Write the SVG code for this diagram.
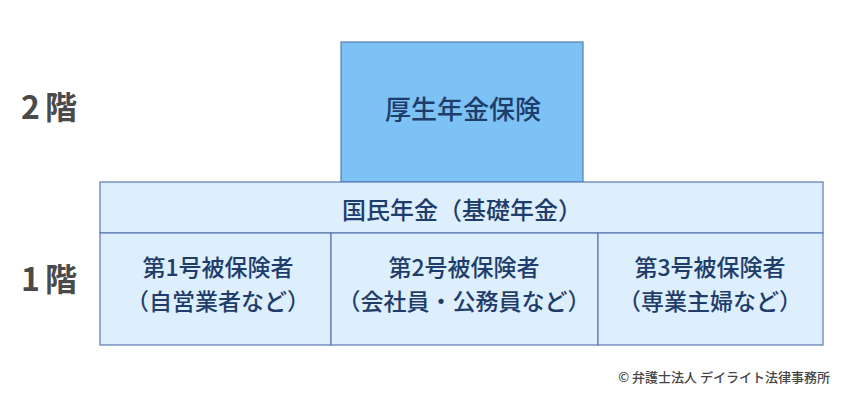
<svg xmlns="http://www.w3.org/2000/svg" width="850" height="400" viewBox="0 0 850 400">
<style>
.box{stroke:#5a7bb0;stroke-width:1.2}
.t{font-family:"Noto Sans CJK JP","Noto Sans",sans-serif;font-size:23px;font-weight:500;fill:#1f3d6b;text-anchor:middle}
.lv{font-family:"Noto Sans CJK JP","Noto Sans",sans-serif;font-size:32px;font-weight:bold;fill:#4a4a4a;letter-spacing:5px}
.cp{font-family:"Noto Sans CJK JP","Noto Sans",sans-serif;font-size:13px;font-weight:500;fill:#444;text-anchor:end}
</style>
<rect width="850" height="400" fill="#fff"/>
<g id="level2"><text class="lv" x="21" y="119">2階</text></g>
<g id="level1"><text class="lv" x="21" y="291">1階</text></g>
<g id="kosei">
<rect class="box" x="341" y="42" width="242" height="140" fill="#7dc2f5"/>
<text class="t" x="463" y="119" style="font-size:26px">厚生年金保険</text>
</g>
<g id="kokumin">
<rect class="box" x="100" y="182" width="723" height="51" fill="#ddeefc"/>
<text class="t" x="462" y="219" style="font-size:24px">国民年金（基礎年金）</text>
</g>
<g id="dai1">
<rect class="box" x="100" y="233" width="231" height="112" fill="#ddeefc"/>
<text class="t" x="218" y="276">第1号被保険者</text>
<text class="t" x="218" y="310">（自営業者など）</text>
</g>
<g id="dai2">
<rect class="box" x="331" y="233" width="267" height="112" fill="#ddeefc"/>
<text class="t" x="464" y="276">第2号被保険者</text>
<text class="t" x="464" y="310">（会社員・公務員など）</text>
</g>
<g id="dai3">
<rect class="box" x="598" y="233" width="225" height="112" fill="#ddeefc"/>
<text class="t" x="710" y="276">第3号被保険者</text>
<text class="t" x="710" y="310">（専業主婦など）</text>
</g>
<g id="connectors"></g>
<g id="copyright"><text class="cp" x="830" y="382">© 弁護士法人 デイライト法律事務所</text></g>
</svg>
